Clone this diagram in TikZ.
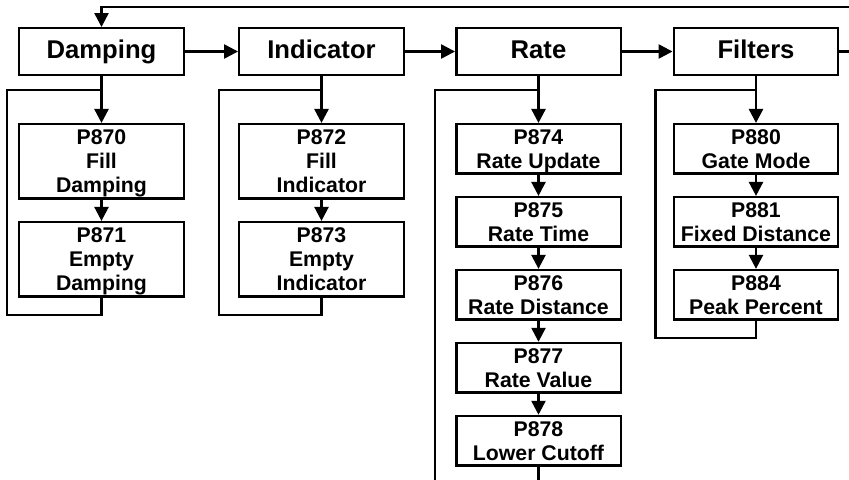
\documentclass[tikz,border=0pt]{standalone}
\usepackage{fontspec}
\setmainfont{Liberation Sans}
\usetikzlibrary{arrows.meta, positioning, calc}
\tikzset{
	menu/.style    ={rectangle, draw=black, line width=1.4pt, minimum width=3.29cm, minimum height=0.93cm, align=center, text height=0.84em, text depth=0pt, font=\bfseries\fontsize{14.6}{16.8}\selectfont},
	parm/.style    ={rectangle, draw=black, line width=1.4pt, minimum width=3.29cm, minimum height=0.99cm, align=center, inner sep=1pt, text depth=0pt, font=\bfseries\fontsize{12.1}{13.7}\selectfont},
	parmtall/.style={parm, minimum height=1.49cm},
	wire/.style    ={line width=1.4pt},
	sig/.style     ={-{Triangle[length=0.28cm, width=0.28cm]}, line width=1.4pt},
}

\begin{document}
\begin{tikzpicture}[x=0.02cm, y=-0.02cm, node distance=0.42cm]
			\useasboundingbox (0,0) rectangle (849,480);
			% menu row
			\node[menu] (d) at (101.5,51.5) {Damping};
			\node[menu] (i) at (321.5,51.5) {Indicator};
			\node[menu] (r) at (538.5,51.5) {Rate};
			\node[menu] (f) at (756,51.5) {Filters};
			\coordinate (topR) at (849,7);
			\coordinate (midR) at (849,51.5);
			\coordinate (botL) at (435,480);
			% parameter columns
			\node[parmtall, below=0.94cm of d] (d1) {P870\\Fill\\Damping};
			\node[parmtall, below=of d1] (d2) {P871\\Empty\\Damping};
			\node[parmtall, below=0.94cm of i] (i1) {P872\\Fill\\Indicator};
			\node[parmtall, below=of i1] (i2) {P873\\Empty\\Indicator};
			\node[parm, below=0.94cm of r] (r1) {P874\\Rate Update};
			\node[parm, below=of r1] (r2) {P875\\Rate Time};
			\node[parm, below=of r2] (r3) {P876\\Rate Distance};
			\node[parm, below=of r3] (r4) {P877\\Rate Value};
			\node[parm, below=of r4] (r5) {P878\\Lower Cutoff};
			\node[parm, below=0.94cm of f] (f1) {P880\\Gate Mode};
			\node[parm, below=of f1] (f2) {P881\\Fixed Distance};
			\node[parm, below=of f2] (f3) {P884\\Peak Percent};
			% connectors
			\draw[sig] (topR) -| (d.north);
			\draw[wire] (f.east) -- (midR);
			\foreach \a/\b in {d/i, i/r, r/f} \draw[sig] (\a) -- (\b);
			\foreach \a/\b in {d/d1, d1/d2, i/i1, i1/i2, r/r1, r1/r2, r2/r3, r3/r4, r4/r5, f/f1, f1/f2, f2/f3} \draw[sig] (\a.south) -- (\b.north);
			\foreach \m/\l/\o in {d/d2/11, i/i2/19, f/f3/17}
				\draw[wire] (\l.south) -- ++(0,17) -| ($(\m.south west)+(-\o,14)$) -- ($(\m.south)+(0,14)$);
			\draw[wire] ($(r.south)+(0,14)$) -| (botL);
			\draw[wire] (r5.south) -- (r5.south |- botL);
		\end{tikzpicture}
\end{document}
